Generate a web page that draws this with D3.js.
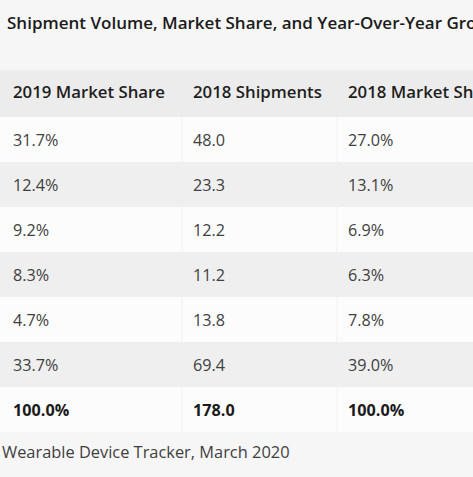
<!DOCTYPE html>
<html>
<head>
<meta charset="utf-8">
<script src="https://cdn.jsdelivr.net/npm/d3@7"></script>
<style>
  html, body { margin: 0; padding: 0; background: #f6f6f6; overflow: hidden; }
  svg { display: block; font-family: "Open Sans", sans-serif; }
</style>
</head>
<body>
<svg id="chart" width="473" height="477"></svg>
<script>
const title = "Shipment Volume, Market Share, and Year-Over-Year Growth";
const columns = ["2019 Market Share", "2018 Shipments", "2018 Market Share"];
const companies = ["Apple", "Xiaomi", "Samsung", "Huawei", "Fitbit", "Others", "Total"];
const share2019 = ["31.7%", "12.4%", "9.2%", "8.3%", "4.7%", "33.7%", "100.0%"];
const shipments2018 = ["48.0", "23.3", "12.2", "11.2", "13.8", "69.4", "178.0"];
const share2018 = ["27.0%", "13.1%", "6.9%", "6.3%", "7.8%", "39.0%", "100.0%"];
const source = "Wearable Device Tracker, March 2020";

const W = 473, H = 477;
const svg = d3.select("#chart");

svg.append("rect").attr("width", W).attr("height", H).attr("fill", "#f6f6f6");

// title
svg.append("text").attr("x", 7).attr("y", 29)
  .attr("font-size", 17).attr("font-weight", 600).attr("fill", "#1b1b1b")
  .text(title);

// scales
const yRow = d3.scaleBand().domain(companies).range([117, 432]);
const x = d3.scaleOrdinal().domain(columns).range([13, 193, 348]);
const colEdges = d3.scaleOrdinal().domain(columns).range([0, 182, 337]);

// header band
svg.append("rect").attr("x", 0).attr("y", 70).attr("width", W).attr("height", 47).attr("fill", "#ececec");

// row bands
svg.selectAll("rect.row").data(companies).join("rect")
  .attr("class", "row")
  .attr("x", 0).attr("y", d => yRow(d)).attr("width", W).attr("height", yRow.bandwidth())
  .attr("fill", (d, i) => i % 2 === 0 ? "#fcfcfc" : "#efefef");

// faint column separators (only visible on light rows)
companies.forEach((r, i) => {
  if (i % 2 !== 0) return;
  svg.selectAll(null).data(columns.slice(1)).join("line")
    .attr("x1", d => colEdges(d)).attr("x2", d => colEdges(d))
    .attr("y1", yRow(r)).attr("y2", yRow(r) + yRow.bandwidth())
    .attr("stroke", "#f1f1f1").attr("stroke-width", 1);
});

// header text
svg.selectAll("text.hdr").data(columns).join("text")
  .attr("class", "hdr")
  .attr("x", d => x(d)).attr("y", 98)
  .attr("font-size", 16.8).attr("font-weight", 600).attr("fill", "#1e1e1e")
  .text(d => d);

// cells
const colValues = [share2019, shipments2018, share2018];
columns.forEach((c, ci) => {
  svg.selectAll(null).data(companies).join("text")
    .attr("x", x(c))
    .attr("y", d => yRow(d) + yRow.bandwidth() / 2 + 6)
    .attr("font-size", 16.2)
    .attr("font-weight", d => d === "Total" ? 700 : 400)
    .attr("fill", d => d === "Total" ? "#1a1a1a" : "#404040")
    .text((d, i) => colValues[ci][i]);
});

// source
svg.append("text").attr("x", 2).attr("y", 458)
  .attr("font-size", 16.4).attr("fill", "#3f3f3f")
  .text(source);
</script>
</body>
</html>
